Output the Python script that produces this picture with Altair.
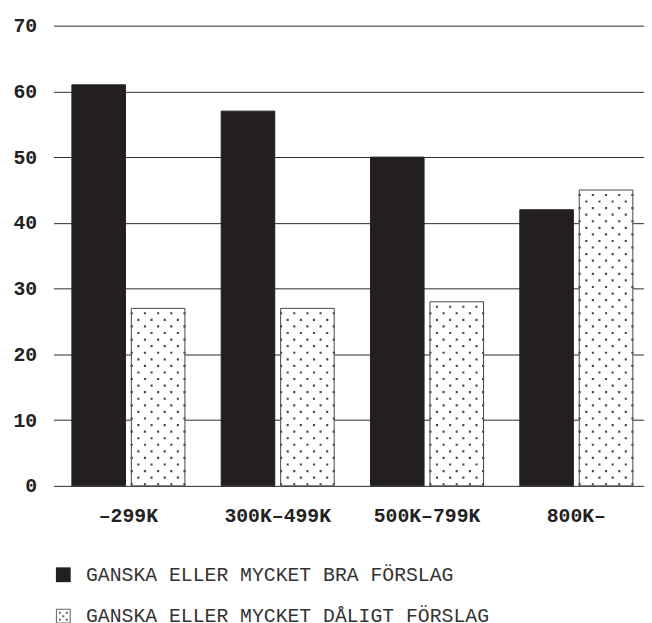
import altair as alt
import pandas as pd

categories = ["–299K", "300K–499K", "500K–799K", "800K–"]
series = ["GANSKA ELLER MYCKET BRA FÖRSLAG", "GANSKA ELLER MYCKET DÅLIGT FÖRSLAG"]
good_values = [61, 57, 50, 42]
bad_values = [27, 27, 28, 45]
y_ticks = [0, 10, 20, 30, 40, 50, 60, 70]

rows = []
for c, g, b in zip(categories, good_values, bad_values):
    rows.append({"cat": c, "series": series[0], "value": g})
    rows.append({"cat": c, "series": series[1], "value": b})
df = pd.DataFrame(rows)

# dotted texture rows inside the "dåligt" bars (one row per value unit)
dot_rows = []
for c, b in zip(categories, bad_values):
    r = 0
    while r + 0.25 <= b - 0.5:
        dot_rows.append({"cat": c, "series": series[1], "y": r + 0.25, "par": r % 2})
        r += 1
dots = pd.DataFrame(dot_rows)

FONT = "Liberation Mono"
INK = "#231f20"

xscale = alt.Scale(domain=categories, paddingInner=0.243, paddingOuter=0.0992, align=0.623)
xoff = alt.Scale(domain=series, paddingInner=0.099, paddingOuter=0)
yscale = alt.Scale(domain=[0, 70], nice=False)

is_bad = alt.datum.series == series[1]


def dot_row_path(offsets, half=0.04):
    parts = []
    for o in offsets:
        parts.append("M%.3f,%.3fh%.3fv%.3fh%.3fZ" % (o - half, -half, 2 * half, 2 * half, -2 * half))
    return " ".join(parts)


# one texture row spans the whole bar width (unit square -1..1 == bar width)
row_a = dot_row_path([-0.738, -0.246, 0.246, 0.738])
row_b = dot_row_path([-0.984, -0.492, 0.0, 0.492, 0.984])

legend_dots = (
    "M-1,-1H1V1H-1Z M-0.86,-0.86V0.86H0.86V-0.86Z "
    "M-0.6,-0.6h0.26v0.26h-0.26Z M0.34,-0.6h0.26v0.26h-0.26Z "
    "M-0.13,-0.13h0.26v0.26h-0.26Z "
    "M-0.6,0.34h0.26v0.26h-0.26Z M0.34,0.34h0.26v0.26h-0.26Z"
)

bars = alt.Chart(df).mark_bar(strokeWidth=1).encode(
    x=alt.X("cat:N", scale=xscale, sort=categories,
            axis=alt.Axis(title=None, labelAngle=0, ticks=False, tickSize=0, domain=False,
                          labelFont=FONT, labelFontSize=20, labelFontWeight="bold",
                          labelColor="#222", labelPadding=20, grid=False)),
    xOffset=alt.XOffset("series:N", scale=xoff, sort=series),
    y=alt.Y("value:Q", scale=yscale,
            axis=alt.Axis(title=None, values=y_ticks, domain=False, ticks=False, tickSize=0,
                          labelFont=FONT, labelFontSize=20, labelFontWeight="bold",
                          labelColor="#222", labelPadding=17, grid=True,
                          gridColor="#2a2a2a", gridWidth=1)),
    fill=alt.condition(is_bad, alt.value("#ffffff"), alt.value(INK)),
    stroke=alt.condition(is_bad, alt.value("#444444"), alt.value(INK)),
)

legend_def = alt.Legend(title=None, orient="none", legendX=0, legendY=546,
                        direction="vertical", symbolSize=225, symbolOpacity=1,
                        symbolStrokeWidth=0, labelFont=FONT, labelFontSize=20,
                        labelColor="#333", labelOffset=13, rowPadding=22,
                        padding=0, labelLimit=600)

legend_layer = alt.Chart(df).mark_point(filled=True, opacity=0, size=1).encode(
    x=alt.X("cat:N", scale=xscale, sort=categories),
    xOffset=alt.XOffset("series:N", scale=xoff, sort=series),
    y=alt.Y("value:Q", scale=yscale),
    fill=alt.Fill("series:N", scale=alt.Scale(domain=series, range=[INK, "#666666"]), legend=legend_def),
    shape=alt.Shape("series:N", scale=alt.Scale(domain=series, range=["square", legend_dots]), legend=legend_def),
)

layers = [bars]
for parity, path in [(0, row_b), (1, row_a)]:
    layer = alt.Chart(dots).transform_filter(
        alt.datum.par == parity
    ).mark_point(shape=path, filled=True, size=54.2 * 54.2, color="#4a4a4a", opacity=1,
                 strokeWidth=0).encode(
        x=alt.X("cat:N", scale=xscale, sort=categories),
        xOffset=alt.XOffset("series:N", scale=xoff, sort=series),
        y=alt.Y("y:Q", scale=yscale),
    )
    layers.append(layer)
layers.append(legend_layer)

chart = alt.layer(*layers).properties(
    width=598, height=466,
    autosize=alt.AutoSizeParams(type="none"),
    padding={"left": 46, "top": 14, "right": 0, "bottom": 137},
).configure_view(stroke=None)

chart.save("out.html", embed_options={"renderer": "svg", "actions": False})
